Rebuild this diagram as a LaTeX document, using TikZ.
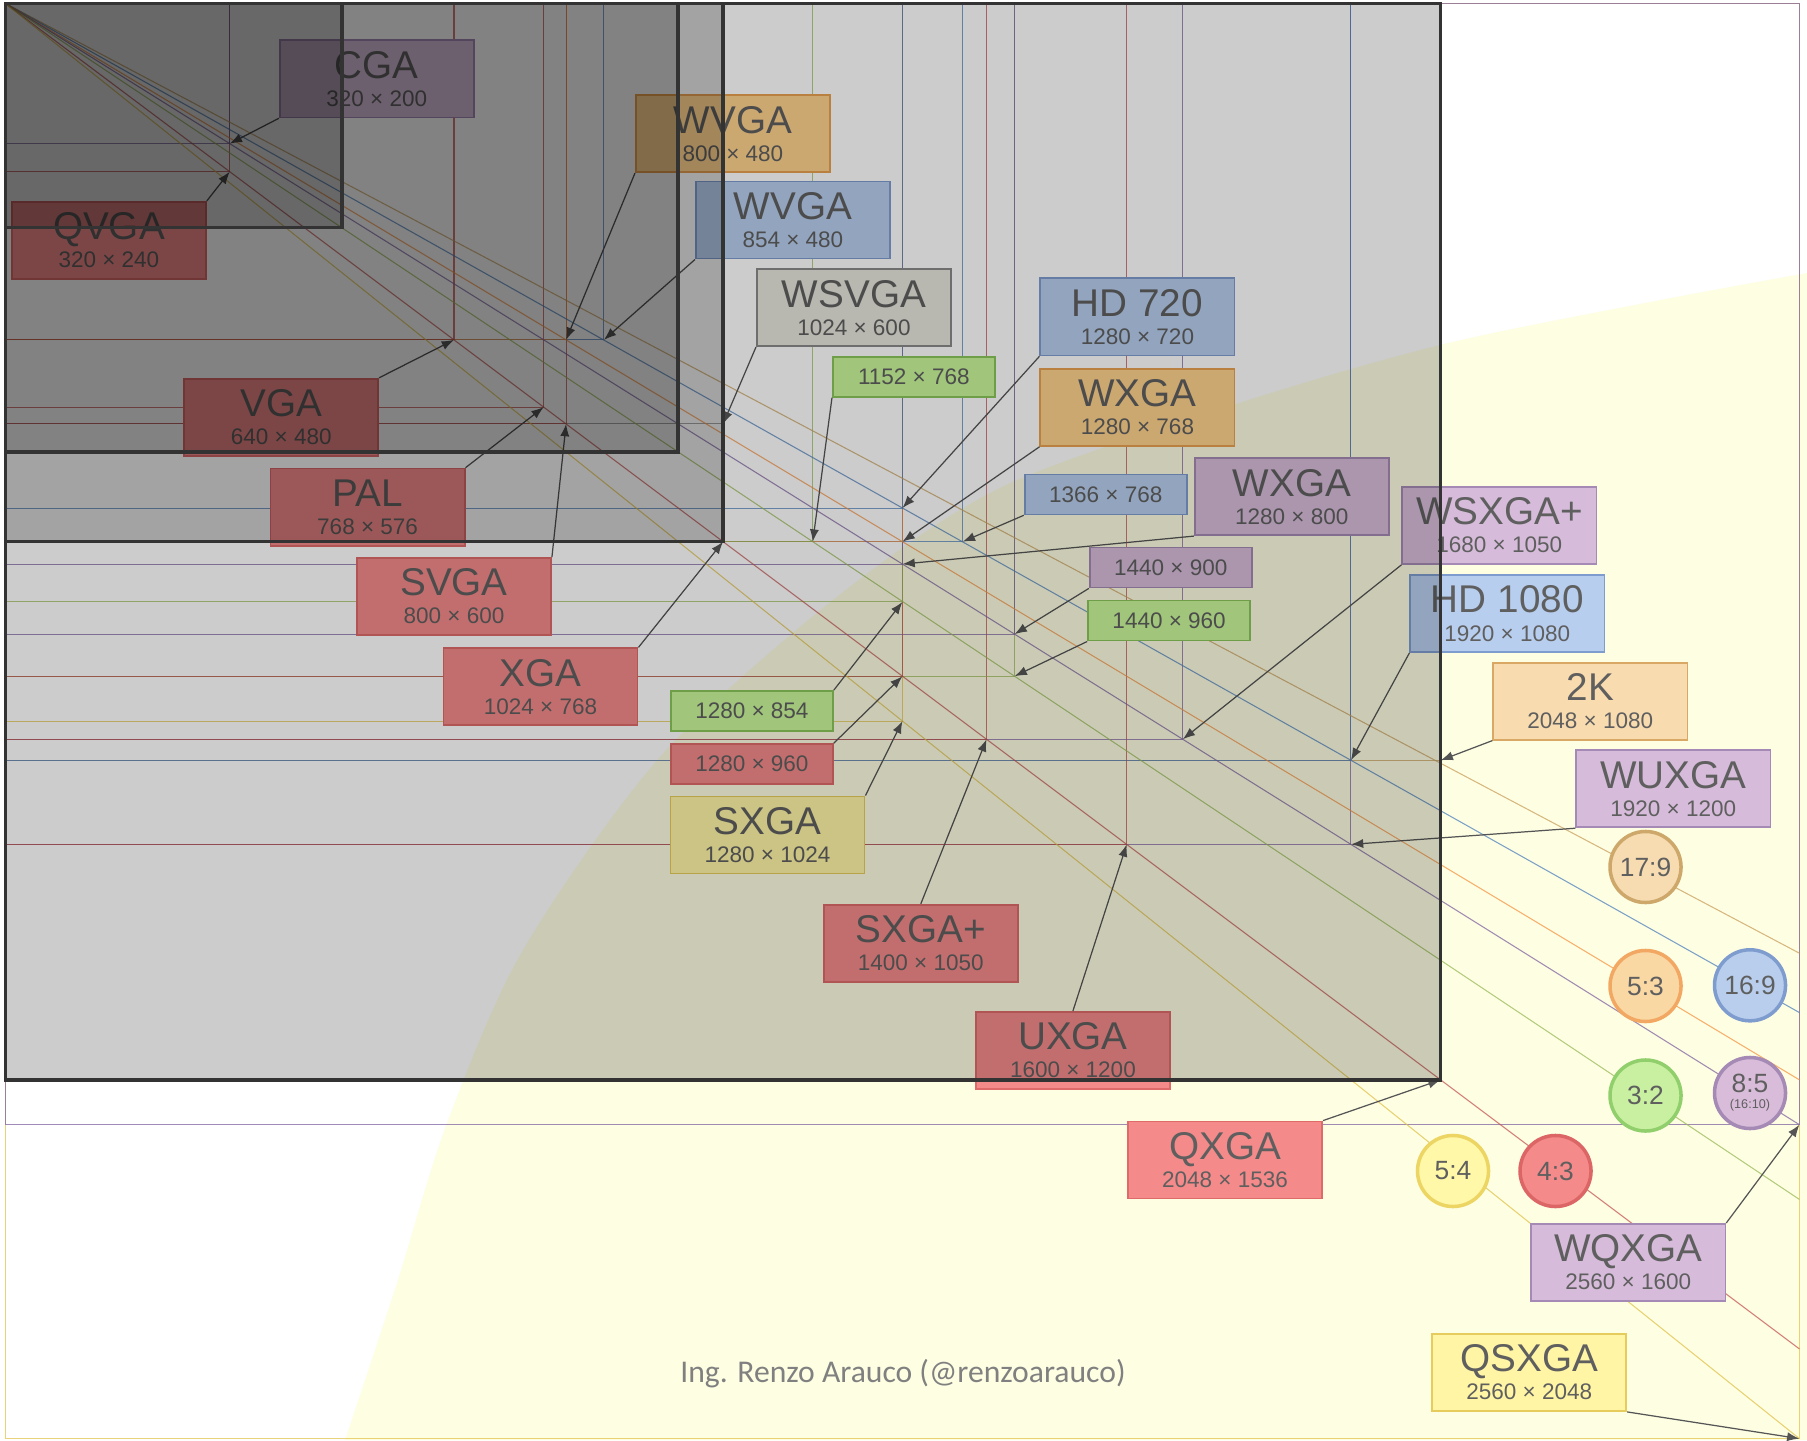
\documentclass[tikz,border=0pt]{standalone}
\usepackage{fontspec}
\setmainfont{Liberation Sans}
\newfontfamily\footfont{Carlito}
\usetikzlibrary{arrows.meta}

\definecolor{lnred}{HTML}{C0504D}
\definecolor{lnblue}{HTML}{4F81BD}
\definecolor{lnpurple}{HTML}{8064A2}
\definecolor{lngreen}{HTML}{9BBB59}
\definecolor{lnorange}{HTML}{F79646}
\definecolor{lnyellow}{HTML}{E2C44E}
\definecolor{lntan}{HTML}{C9A15E}
\definecolor{lngray}{HTML}{8C8C8C}
\definecolor{txtgray}{HTML}{5F5F5F}
\definecolor{footgray}{HTML}{808080}
\definecolor{arrowgray}{HTML}{555555}
\definecolor{boxdark}{HTML}{333333}
\definecolor{yellowbg}{HTML}{FEFEE3}
% label fills and rims
\definecolor{fred}{HTML}{F48A8A}      \definecolor{dred}{HTML}{DE6A6A}
\definecolor{fblue}{HTML}{B8CEEE}     \definecolor{dblue}{HTML}{7F9CCF}
\definecolor{fpurple}{HTML}{D6BCDA}   \definecolor{dpurple}{HTML}{A48AB4}
\definecolor{fgreen}{HTML}{C8F79A}    \definecolor{dgreen}{HTML}{8BC65A}
\definecolor{forange}{HTML}{FFD28E}   \definecolor{dorange}{HTML}{E8A050}
\definecolor{fyellow}{HTML}{FFF5A5}   \definecolor{dyellow}{HTML}{E6CC5C}
\definecolor{ftan}{HTML}{F8DCB0}      \definecolor{dtan}{HTML}{D9A865}
\definecolor{fgray}{HTML}{E6E6DC}     \definecolor{dgray}{HTML}{8A8A8A}
% disc fills and rims
\definecolor{k179f}{HTML}{F7DCB2}     \definecolor{k179d}{HTML}{CDA86A}
\definecolor{k53f}{HTML}{F9D8A4}      \definecolor{k53d}{HTML}{F2A863}
\definecolor{k169f}{HTML}{B8CEEC}     \definecolor{k169d}{HTML}{7F9CCF}
\definecolor{k32f}{HTML}{C8F0A0}      \definecolor{k32d}{HTML}{90CF6C}
\definecolor{k85f}{HTML}{D8BCD9}      \definecolor{k85d}{HTML}{A48AB4}
\definecolor{k54f}{HTML}{FFF8A8}      \definecolor{k54d}{HTML}{EDD563}
\definecolor{k43f}{HTML}{F48A8A}      \definecolor{k43d}{HTML}{DC6666}

\newcommand{\nm}[1]{{\fontsize{11}{8}\selectfont #1}}

\begin{document}
\begin{tikzpicture}[x=0.01cm,y=-0.01cm,
	rline/.style={line width=0.3pt,draw opacity=0.75},
	ptr/.style={-{Latex[length=3.5pt,width=2.6pt]},draw=arrowgray,line width=0.35pt},
	lbl/.style={draw,line width=0.5pt,minimum width=1.94cm,minimum height=0.77cm,inner sep=0pt,align=center,text=txtgray,font=\fontsize{6.4}{8}\selectfont},
	slbl/.style={lbl,minimum width=1.62cm,minimum height=0.40cm},
	boxred/.style={fill=fred,draw=dred},
	boxblue/.style={fill=fblue,draw=dblue},
	boxpurple/.style={fill=fpurple,draw=dpurple},
	boxgreen/.style={fill=fgreen,draw=dgreen},
	boxorange/.style={fill=forange,draw=dorange},
	boxyellow/.style={fill=fyellow,draw=dyellow},
	boxtan/.style={fill=ftan,draw=dtan},
	boxgray/.style={fill=fgray,draw=dgray},
	ratio/.style={circle,minimum size=0.71cm,inner sep=0pt,line width=1pt,text=txtgray,align=center,font=\fontsize{7.5}{7}\selectfont},
	applebox/.style={fill=black,fill opacity=0.2,draw=boxdark,line width=1pt}]

\useasboundingbox (0,0) rectangle (1807,1440);
\fill[white] (0,0) rectangle (1807,1440);

% yellow band
\fill[yellowbg] plot[smooth] coordinates {(345,1440) (397,1283) (447,1123) (523,950) (660,757) (833,600) (1000,488) (1233,405) (1440,345) (1650,302) (1807,273)} -- (1807,1440) -- cycle;

\begin{scope}[shift={(5.5,3.5)},x=0.00701cm,y=-0.00701cm]
	\coordinate (o) at (0,0);
	\coordinate (r320x200) at (320,200);
	\coordinate (r320x240) at (320,240);
	\coordinate (a480x320) at (480,320);
	\coordinate (r640x480) at (640,480);
	\coordinate (r768x576) at (768,576);
	\coordinate (r800x480) at (800,480);
	\coordinate (r854x480) at (854,480);
	\coordinate (r800x600) at (800,600);
	\coordinate (a960x640) at (960,640);
	\coordinate (r1024x600) at (1024,600);
	\coordinate (r1024x768) at (1024,768);
	\coordinate (r1152x768) at (1152,768);
	\coordinate (r1280x720) at (1280,720);
	\coordinate (r1280x768) at (1280,768);
	\coordinate (r1366x768) at (1366,768);
	\coordinate (r1280x800) at (1280,800);
	\coordinate (r1280x854) at (1280,854);
	\coordinate (r1280x960) at (1280,960);
	\coordinate (r1280x1024) at (1280,1024);
	\coordinate (r1400x1050) at (1400,1050);
	\coordinate (r1440x900) at (1440,900);
	\coordinate (r1440x960) at (1440,960);
	\coordinate (r1600x1200) at (1600,1200);
	\coordinate (r1680x1050) at (1680,1050);
	\coordinate (r1920x1080) at (1920,1080);
	\coordinate (r2048x1080) at (2048,1080);
	\coordinate (r1920x1200) at (1920,1200);
	\coordinate (r2048x1536) at (2048,1536);
	\coordinate (r2560x1600) at (2560,1600);
	\coordinate (r2560x2048) at (2560,2048);
	\coordinate (e17x9) at (2560,1355.3);
	\coordinate (e16x9) at (2560,1440);
	\coordinate (e5x3) at (2560,1536);
	\coordinate (e3x2) at (2560,1706.7);
	\coordinate (e4x3) at (2560,1920);
\end{scope}

% resolution outlines, biggest first
\draw[rline,lnyellow] (o) rectangle (r2560x2048);
\draw[rline,lnpurple] (o) rectangle (r2560x1600);
\draw[rline,lnred] (o) rectangle (r2048x1536);
\draw[rline,lnpurple] (o) rectangle (r1920x1200);
\draw[rline,lntan] (o) rectangle (r2048x1080);
\draw[rline,lnblue] (o) rectangle (r1920x1080);
\draw[rline,lnred] (o) rectangle (r1600x1200);
\draw[rline,lnpurple] (o) rectangle (r1680x1050);
\draw[rline,lnred] (o) rectangle (r1400x1050);
\draw[rline,lngreen] (o) rectangle (r1440x960);
\draw[rline,lnyellow] (o) rectangle (r1280x1024);
\draw[rline,lnpurple] (o) rectangle (r1440x900);
\draw[rline,lnred] (o) rectangle (r1280x960);
\draw[rline,lngreen] (o) rectangle (r1280x854);
\draw[rline,lnblue] (o) rectangle (r1366x768);
\draw[rline,lnpurple] (o) rectangle (r1280x800);
\draw[rline,lnorange] (o) rectangle (r1280x768);
\draw[rline,lnblue] (o) rectangle (r1280x720);
\draw[rline,lngreen] (o) rectangle (r1152x768);
\draw[rline,lnred] (o) rectangle (r1024x768);
\draw[rline,lngray] (o) rectangle (r1024x600);
\draw[rline,lnred] (o) rectangle (r800x600);
\draw[rline,lnred] (o) rectangle (r768x576);
\draw[rline,lnblue] (o) rectangle (r854x480);
\draw[rline,lnorange] (o) rectangle (r800x480);
\draw[rline,lnred] (o) rectangle (r640x480);
\draw[rline,lnred] (o) rectangle (r320x240);
\draw[rline,lnpurple] (o) rectangle (r320x200);

% aspect diagonals
\draw[rline,lntan] (o) -- (e17x9);
\draw[rline,lnblue] (o) -- (e16x9);
\draw[rline,lnorange] (o) -- (e5x3);
\draw[rline,lnpurple] (o) -- (r2560x1600);
\draw[rline,lngreen] (o) -- (e3x2);
\draw[rline,lnred] (o) -- (e4x3);
\draw[rline,lnyellow] (o) -- (r2560x2048);

% labels
\node[lbl,boxpurple] (cga) at (376.8,78.9) {\nm{CGA}\\320 × 200};
\node[lbl,boxred] (qvga) at (108.9,240.3) {\nm{QVGA}\\320 × 240};
\node[lbl,boxorange] (wvgaA) at (732.9,133.7) {\nm{WVGA}\\800 × 480};
\node[lbl,boxblue] (wvgaB) at (792.9,220.1) {\nm{WVGA}\\854 × 480};
\node[lbl,boxgray] (wsvga) at (853.9,307.7) {\nm{WSVGA}\\1024 × 600};
\node[lbl,boxred] (vga) at (281.2,417.2) {\nm{VGA}\\640 × 480};
\node[lbl,boxred] (pal) at (367.6,507.1) {\nm{PAL}\\768 × 576};
\node[lbl,boxred] (svga) at (454.0,596.4) {\nm{SVGA}\\800 × 600};
\node[lbl,boxred] (xga) at (540.5,686.8) {\nm{XGA}\\1024 × 768};
\node[slbl,boxgreen] (s1152) at (913.9,376.8) {1152 × 768};
\node[lbl,boxblue] (hd720) at (1137.4,316.9) {\nm{HD 720}\\1280 × 720};
\node[lbl,boxorange] (wxgaA) at (1137.4,407.4) {\nm{WXGA}\\1280 × 768};
\node[slbl,boxblue] (s1366) at (1105.7,494.4) {1366 × 768};
\node[lbl,boxpurple] (wxgaB) at (1291.8,496.7) {\nm{WXGA}\\1280 × 800};
\node[slbl,boxpurple] (s1440a) at (1170.8,567.5) {1440 × 900};
\node[slbl,boxgreen] (s1440b) at (1169.1,620.6) {1440 × 960};
\node[slbl,boxgreen] (s1280a) at (751.9,711.0) {1280 × 854};
\node[slbl,boxred] (s1280b) at (751.9,764.0) {1280 × 960};
\node[lbl,boxyellow] (sxga) at (767.5,834.9) {\nm{SXGA}\\1280 × 1024};
\node[lbl,boxred] (sxgap) at (920.8,943.2) {\nm{SXGA+}\\1400 × 1050};
\node[lbl,boxred] (uxga) at (1072.9,1050.4) {\nm{UXGA}\\1600 × 1200};
\node[lbl,boxpurple] (wsxgap) at (1499.3,525.5) {\nm{WSXGA+}\\1680 × 1050};
\node[lbl,boxblue] (hd1080) at (1507.3,613.6) {\nm{HD 1080}\\1920 × 1080};
\node[lbl,boxtan] (twok) at (1590.3,701.2) {\nm{2K}\\2048 × 1080};
\node[lbl,boxpurple] (wuxga) at (1673.3,788.8) {\nm{WUXGA}\\1920 × 1200};
\node[lbl,boxred] (qxga) at (1225.0,1160.0) {\nm{QXGA}\\2048 × 1536};
\node[lbl,boxpurple] (wqxga) at (1628.3,1262.4) {\nm{WQXGA}\\2560 × 1600};
\node[lbl,boxyellow] (qsxga) at (1529.2,1372.5) {\nm{QSXGA}\\2560 × 2048};

% pointers
\draw[ptr] (cga.south west) -- (r320x200);
\draw[ptr] (qvga.north east) -- (r320x240);
\draw[ptr] (wvgaA.south west) -- (r800x480);
\draw[ptr] (wvgaB.south west) -- (r854x480);
\draw[ptr] (wsvga.south west) -- (r1024x600);
\draw[ptr] (vga.north east) -- (r640x480);
\draw[ptr] (pal.north east) -- (r768x576);
\draw[ptr] (svga.north east) -- (r800x600);
\draw[ptr] (xga.north east) -- (r1024x768);
\draw[ptr] (s1152.south west) -- (r1152x768);
\draw[ptr] (hd720.south west) -- (r1280x720);
\draw[ptr] (wxgaA.south west) -- (r1280x768);
\draw[ptr] (s1366.south west) -- (r1366x768);
\draw[ptr] (wxgaB.south west) -- (r1280x800);
\draw[ptr] (s1440a.south west) -- (r1440x900);
\draw[ptr] (s1440b.south west) -- (r1440x960);
\draw[ptr] (s1280a.north east) -- (r1280x854);
\draw[ptr] (s1280b.north east) -- (r1280x960);
\draw[ptr] (sxga.north east) -- (r1280x1024);
\draw[ptr] (sxgap.north) -- (r1400x1050);
\draw[ptr] (uxga.north) -- (r1600x1200);
\draw[ptr] (wsxgap.south west) -- (r1680x1050);
\draw[ptr] (hd1080.south west) -- (r1920x1080);
\draw[ptr] (twok.south west) -- (r2048x1080);
\draw[ptr] (wuxga.south west) -- (r1920x1200);
\draw[ptr] (qxga.north east) -- (r2048x1536);
\draw[ptr] (wqxga.north east) -- (r2560x1600);
\draw[ptr] (qsxga.south east) -- (r2560x2048);

% aspect ratio discs
\node[ratio,fill=k179f,draw=k179d] (k17x9) at (1645.5,867.0) {17:9};
\node[ratio,fill=k53f,draw=k53d] (k5x3) at (1645.5,986.0) {5:3};
\node[ratio,fill=k169f,draw=k169d] (k16x9) at (1750.0,985.3) {16:9};
\node[ratio,fill=k32f,draw=k32d] (k3x2) at (1645.5,1095.5) {3:2};
\node[ratio,fill=k85f,draw=k85d] (k8x5) at (1750.0,1093.0) {8:5\\[-2.5pt]{\fontsize{3.6}{4}\selectfont (16:10)}};
\node[ratio,fill=k54f,draw=k54d] (k5x4) at (1453.0,1171.0) {5:4};
\node[ratio,fill=k43f,draw=k43d] (k4x3) at (1555.5,1171.0) {4:3};

% device frames
\draw[applebox] (o) rectangle (r2048x1536);
\draw[applebox] (o) rectangle (r1024x768);
\draw[applebox] (o) rectangle (a960x640);
\draw[applebox] (o) rectangle (a480x320);

\node[text=footgray,font=\footfont\fontsize{9}{9}\selectfont] (credit) at (903,1374) {Ing. Renzo Arauco (@renzoarauco)};
\end{tikzpicture}
\end{document}
